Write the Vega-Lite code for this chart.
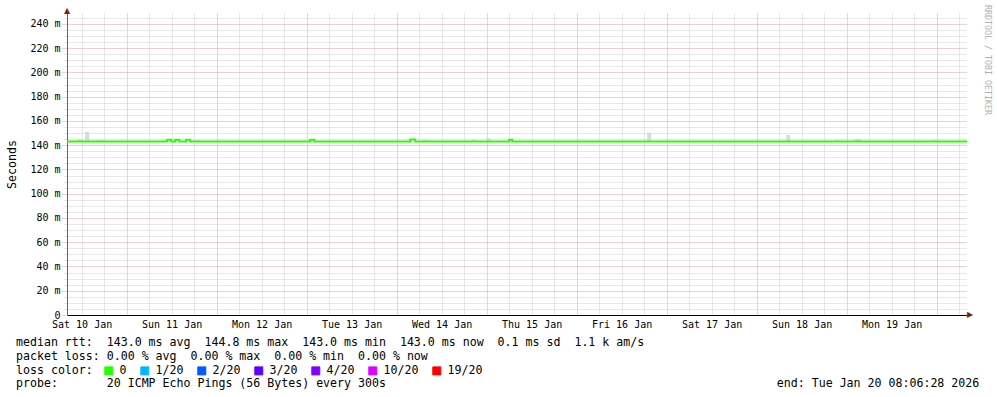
{
  "$schema": "https://vega.github.io/schema/vega-lite/v6.json",
  "width": 900,
  "height": 302,
  "autosize": {"type": "none"},
  "padding": {"left": 67, "top": 13, "right": 30, "bottom": 82},
  "background": "white",
  "config": {
    "font": "DejaVu Sans Mono",
    "view": {"stroke": null},
    "axis": {"labelFont": "DejaVu Sans Mono", "labelFontSize": 10, "labelColor": "#000000", "titleFont": "DejaVu Sans Mono", "titleFontWeight": "normal", "titleColor": "#000000", "labelOverlap": false, "labelBound": false, "labelFlush": false}
  },
  "title": {
    "text": [
      "median rtt:\u00a0\u00a0143.0 ms avg\u00a0\u00a0144.8 ms max\u00a0\u00a0143.0 ms min\u00a0\u00a0143.0 ms now\u00a0\u00a00.1 ms sd\u00a0\u00a01.1 k am/s",
      "packet loss: 0.00 % avg\u00a0\u00a00.00 % max\u00a0\u00a00.00 % min\u00a0\u00a00.00 % now"
    ],
    "subtitle": "probe:\u00a0\u00a0\u00a0\u00a0\u00a0\u00a0\u00a020 ICMP Echo Pings (56 Bytes) every 300s\u00a0\u00a0\u00a0\u00a0\u00a0\u00a0\u00a0\u00a0\u00a0\u00a0\u00a0\u00a0\u00a0\u00a0\u00a0\u00a0\u00a0\u00a0\u00a0\u00a0\u00a0\u00a0\u00a0\u00a0\u00a0\u00a0\u00a0\u00a0\u00a0\u00a0\u00a0\u00a0\u00a0\u00a0\u00a0\u00a0\u00a0\u00a0\u00a0\u00a0\u00a0\u00a0\u00a0\u00a0\u00a0\u00a0\u00a0\u00a0\u00a0\u00a0\u00a0\u00a0\u00a0\u00a0\u00a0\u00a0end: Tue Jan 20 08:06:28 2026",
    "orient": "bottom",
    "anchor": "start",
    "frame": "group",
    "align": "left",
    "baseline": "top",
    "font": "DejaVu Sans Mono",
    "fontSize": 11.6,
    "fontWeight": "normal",
    "color": "#000000",
    "lineHeight": 14,
    "subtitleFont": "DejaVu Sans Mono",
    "subtitleFontSize": 11.6,
    "subtitleFontWeight": "normal",
    "subtitleColor": "#000000",
    "subtitleLineHeight": 14,
    "subtitlePadding": 15,
    "offset": -40,
    "dx": -51
  },
  "datasets": {
    "median": [
      {"t": "2026-01-10T08:06:28", "rtt": 0.1430, "loss": "0"},
      {"t": "2026-01-11T10:50:00", "rtt": 0.1444, "loss": "0"},
      {"t": "2026-01-11T11:54:00", "rtt": 0.1430, "loss": "0"},
      {"t": "2026-01-11T12:58:00", "rtt": 0.1444, "loss": "0"},
      {"t": "2026-01-11T14:02:00", "rtt": 0.1430, "loss": "0"},
      {"t": "2026-01-11T15:54:00", "rtt": 0.1444, "loss": "0"},
      {"t": "2026-01-11T16:58:00", "rtt": 0.1430, "loss": "0"},
      {"t": "2026-01-13T00:58:00", "rtt": 0.1444, "loss": "0"},
      {"t": "2026-01-13T02:02:00", "rtt": 0.1430, "loss": "0"},
      {"t": "2026-01-14T03:38:00", "rtt": 0.1448, "loss": "0"},
      {"t": "2026-01-14T04:58:00", "rtt": 0.1430, "loss": "0"},
      {"t": "2026-01-15T06:02:00", "rtt": 0.1444, "loss": "0"},
      {"t": "2026-01-15T06:50:00", "rtt": 0.1430, "loss": "0"},
      {"t": "2026-01-20T08:06:28", "rtt": 0.1430, "loss": "0"}
    ],
    "smoke": [
      {"t0": "2026-01-10T10:50:00", "t1": "2026-01-10T12:10:00", "lo": 0.1430, "hi": 0.1447},
      {"t0": "2026-01-10T12:58:00", "t1": "2026-01-10T14:02:00", "lo": 0.1430, "hi": 0.1509},
      {"t0": "2026-01-10T15:54:00", "t1": "2026-01-10T17:46:00", "lo": 0.1430, "hi": 0.1440},
      {"t0": "2026-01-11T17:46:00", "t1": "2026-01-11T19:38:00", "lo": 0.1430, "hi": 0.1440},
      {"t0": "2026-01-14T06:50:00", "t1": "2026-01-14T08:58:00", "lo": 0.1430, "hi": 0.1440},
      {"t0": "2026-01-14T20:10:00", "t1": "2026-01-14T21:04:00", "lo": 0.1430, "hi": 0.1446},
      {"t0": "2026-01-14T23:54:00", "t1": "2026-01-15T00:58:00", "lo": 0.1430, "hi": 0.1460},
      {"t0": "2026-01-16T18:50:00", "t1": "2026-01-16T19:54:00", "lo": 0.1430, "hi": 0.1503},
      {"t0": "2026-01-18T07:54:00", "t1": "2026-01-18T08:58:00", "lo": 0.1430, "hi": 0.1485},
      {"t0": "2026-01-18T20:58:00", "t1": "2026-01-18T22:02:00", "lo": 0.1430, "hi": 0.1443},
      {"t0": "2026-01-19T02:02:00", "t1": "2026-01-19T03:54:00", "lo": 0.1430, "hi": 0.1452},
      {"t0": "2026-01-19T22:50:00", "t1": "2026-01-19T23:54:00", "lo": 0.1430, "hi": 0.1440}
    ],
    "marks": [
      {"tstart": "2026-01-10T08:06:28", "tend": "2026-01-20T08:06:28", "vtop": 0.249, "vzero": 0, "label": "RRDTOOL / TOBI OETIKER", "up": "\u25b2", "right": "\u25b6"}
    ]
  },
  "resolve": {"axis": {"x": "independent", "y": "independent"}},
  "layer": [
    {
      "data": {"name": "smoke"},
      "mark": {"type": "rect", "color": "#dadada"},
      "encoding": {
        "x": {
          "field": "t0", "type": "temporal",
          "scale": {"domain": [{"year": 2026, "month": 1, "date": 10, "hours": 8, "minutes": 6, "seconds": 28}, {"year": 2026, "month": 1, "date": 20, "hours": 8, "minutes": 6, "seconds": 28}], "nice": false},
          "axis": {
            "orient": "bottom",
            "title": null,
            "values": [
              {"year": 2026, "month": 1, "date": 10, "hours": 12}, {"year": 2026, "month": 1, "date": 10, "hours": 18},
              {"year": 2026, "month": 1, "date": 11, "hours": 6}, {"year": 2026, "month": 1, "date": 11, "hours": 12}, {"year": 2026, "month": 1, "date": 11, "hours": 18},
              {"year": 2026, "month": 1, "date": 12, "hours": 6}, {"year": 2026, "month": 1, "date": 12, "hours": 12}, {"year": 2026, "month": 1, "date": 12, "hours": 18},
              {"year": 2026, "month": 1, "date": 13, "hours": 6}, {"year": 2026, "month": 1, "date": 13, "hours": 12}, {"year": 2026, "month": 1, "date": 13, "hours": 18},
              {"year": 2026, "month": 1, "date": 14, "hours": 6}, {"year": 2026, "month": 1, "date": 14, "hours": 12}, {"year": 2026, "month": 1, "date": 14, "hours": 18},
              {"year": 2026, "month": 1, "date": 15, "hours": 6}, {"year": 2026, "month": 1, "date": 15, "hours": 12}, {"year": 2026, "month": 1, "date": 15, "hours": 18},
              {"year": 2026, "month": 1, "date": 16, "hours": 6}, {"year": 2026, "month": 1, "date": 16, "hours": 12}, {"year": 2026, "month": 1, "date": 16, "hours": 18},
              {"year": 2026, "month": 1, "date": 17, "hours": 6}, {"year": 2026, "month": 1, "date": 17, "hours": 12}, {"year": 2026, "month": 1, "date": 17, "hours": 18},
              {"year": 2026, "month": 1, "date": 18, "hours": 6}, {"year": 2026, "month": 1, "date": 18, "hours": 12}, {"year": 2026, "month": 1, "date": 18, "hours": 18},
              {"year": 2026, "month": 1, "date": 19, "hours": 6}, {"year": 2026, "month": 1, "date": 19, "hours": 12}, {"year": 2026, "month": 1, "date": 19, "hours": 18},
              {"year": 2026, "month": 1, "date": 20, "hours": 6}
            ],
            "labelExpr": "hours(datum.value) == 12 ? timeFormat(datum.value, '%a %d %b') : ''",
            "labelAngle": 0,
            "labelAlign": "center",
            "labelBaseline": "top",
            "labelPadding": 4,
            "ticks": false,
            "domain": false,
            "grid": true,
            "gridDash": [1, 1],
            "gridWidth": 1,
            "gridColor": "#d0d0d0"
          }
        },
        "x2": {"field": "t1"},
        "y": {
          "field": "lo", "type": "quantitative",
          "scale": {"domain": [0, 0.249], "nice": false, "zero": true},
          "axis": {
            "orient": "left",
            "title": null,
            "values": [0.005,0.01,0.015,0.025,0.03,0.035,0.045,0.05,0.055,0.065,0.07,0.075,0.085,0.09,0.095,0.105,0.11,0.115,0.125,0.13,0.135,0.145,0.15,0.155,0.165,0.17,0.175,0.185,0.19,0.195,0.205,0.21,0.215,0.225,0.23,0.235,0.245],
            "labels": false,
            "ticks": true,
            "tickSize": 3,
            "tickDash": [1, 1],
            "tickColor": "#d0d0d0",
            "domain": false,
            "grid": true,
            "gridDash": [1, 1],
            "gridWidth": 1,
            "gridColor": "#d0d0d0"
          }
        },
        "y2": {"field": "hi"}
      }
    },
    {
      "data": {"name": "median"},
      "mark": {"type": "line", "interpolate": "step-after", "strokeWidth": 2, "clip": true},
      "encoding": {
        "x": {
          "field": "t", "type": "temporal",
          "axis": {
            "orient": "bottom",
            "title": null,
            "values": [
              {"year": 2026, "month": 1, "date": 11}, {"year": 2026, "month": 1, "date": 12}, {"year": 2026, "month": 1, "date": 13},
              {"year": 2026, "month": 1, "date": 14}, {"year": 2026, "month": 1, "date": 15}, {"year": 2026, "month": 1, "date": 16},
              {"year": 2026, "month": 1, "date": 17}, {"year": 2026, "month": 1, "date": 18}, {"year": 2026, "month": 1, "date": 19},
              {"year": 2026, "month": 1, "date": 20}
            ],
            "labels": false,
            "ticks": false,
            "domain": true,
            "domainColor": "#000000",
            "domainWidth": 1,
            "grid": true,
            "gridDash": [1, 1],
            "gridWidth": 1,
            "gridColor": "#e3a0a0"
          }
        },
        "y": {
          "field": "rtt", "type": "quantitative",
          "axis": {
            "orient": "left",
            "title": "Seconds",
            "titleFontSize": 11.6,
            "titlePadding": 12,
            "values": [0,0.02,0.04,0.06,0.08,0.1,0.12,0.14,0.16,0.18,0.2,0.22,0.24],
            "labelExpr": "datum.value == 0 ? '0' : format(round(datum.value*1000), 'd') + ' m'",
            "labelAlign": "right",
            "labelBaseline": "middle",
            "labelPadding": 2,
            "tickSize": 5,
            "tickDash": [1, 1],
            "tickColor": "#e3a0a0",
            "domainColor": "#666666",
            "grid": true,
            "gridDash": [1, 1],
            "gridWidth": 1,
            "gridColor": "#e3a0a0"
          }
        },
        "color": {
          "field": "loss", "type": "nominal",
          "scale": {"domain": ["0", "1/20", "2/20", "3/20", "4/20", "10/20", "19/20"], "range": ["#26ff00", "#00b8ff", "#0059ff", "#5e00ff", "#7e00ff", "#dd00ff", "#ff0000"]},
          "legend": {
            "title": "loss color:",
            "orient": "none",
            "legendX": -51,
            "legendY": 352,
            "direction": "horizontal",
            "titleOrient": "left",
            "titleFont": "DejaVu Sans Mono",
            "titleFontSize": 11.6,
            "titleFontWeight": "normal",
            "titleColor": "#000000",
            "titlePadding": 10,
            "labelFont": "DejaVu Sans Mono",
            "labelFontSize": 11.6,
            "labelColor": "#000000",
            "labelOffset": 5,
            "columnPadding": 11,
            "symbolType": "square",
            "symbolSize": 64,
            "padding": 0,
            "encode": {
              "symbols": {
                "update": {
                  "fill": {"scale": "color", "field": "value"},
                  "stroke": {"value": "#000000"},
                  "strokeWidth": {"value": 1},
                  "opacity": {"value": 1}
                }
              }
            }
          }
        }
      }
    },
    {
      "data": {"name": "marks"},
      "mark": {"type": "text", "color": "#b0b0b0", "fontSize": 8.3, "font": "DejaVu Sans Mono", "angle": 90, "align": "left", "baseline": "middle", "dx": -8, "dy": -20},
      "encoding": {
        "x": {"field": "tend", "type": "temporal", "axis": null},
        "y": {"field": "vtop", "type": "quantitative", "axis": null},
        "text": {"field": "label"}
      }
    },
    {
      "data": {"name": "marks"},
      "mark": {"type": "text", "color": "#7f1f1f", "fontSize": 8, "font": "DejaVu Sans", "align": "center", "baseline": "alphabetic", "dy": 0},
      "encoding": {
        "x": {"field": "tstart", "type": "temporal", "axis": null},
        "y": {"field": "vtop", "type": "quantitative", "axis": null},
        "text": {"field": "up"}
      }
    },
    {
      "data": {"name": "marks"},
      "mark": {"type": "text", "color": "#7f1f1f", "fontSize": 8, "font": "DejaVu Sans", "align": "left", "baseline": "middle", "dx": 0},
      "encoding": {
        "x": {"field": "tend", "type": "temporal", "axis": null},
        "y": {"field": "vzero", "type": "quantitative", "axis": null},
        "text": {"field": "right"}
      }
    }
  ]
}
